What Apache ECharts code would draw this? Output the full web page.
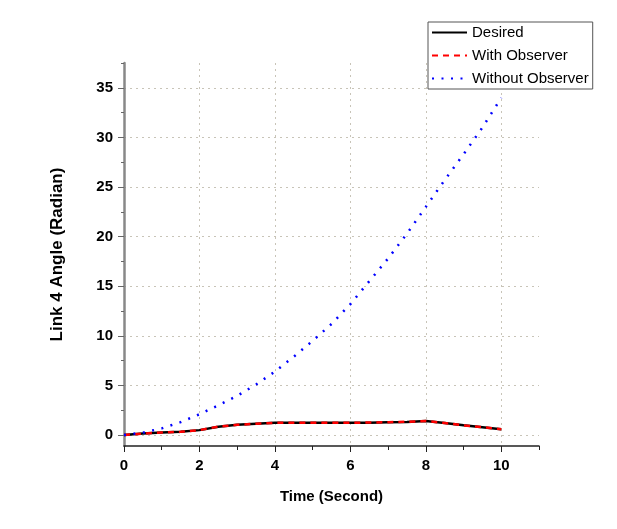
<!DOCTYPE html>
<html>
<head>
<meta charset="utf-8">
<script src="https://cdn.jsdelivr.net/npm/echarts@6/dist/echarts.min.js"></script>
<style>
html,body{margin:0;padding:0;background:#fff;}
#tu{width:617px;height:529px;}
</style>
</head>
<body>
<div id="tu"></div>
<script>
// time axis (s)
var shijian = [0,0.5,1,1.5,2,2.5,3,3.5,4,4.5,5,5.5,6,6.5,7,7.5,8,8.5,9,9.5,10]
// desired
var desired = [0,0.15,0.25,0.33,0.5,0.85,1.03,1.15,1.24,1.24,1.24,1.24,1.24,1.25,1.3,1.33,1.43,1.22,0.98,0.8,0.6]
// with observer
var withObs = [0,0.15,0.25,0.33,0.5,0.85,1.03,1.15,1.24,1.24,1.24,1.24,1.24,1.26,1.3,1.34,1.43,1.21,0.98,0.8,0.6]
// without observer
var withoutObs = [0,0.25,0.67,1.3,2.1,3.0,3.95,5.1,6.4,7.9,9.5,11.2,13.2,15.5,17.8,20.3,23.0,25.7,28.3,31.0,34.0]

var yMajor = [0,5,10,15,20,25,30,35]
var yMinor = [2.5,7.5,12.5,17.5,22.5,27.5,32.5,37.5]
var xMajor = [0,2,4,6,8,10]
var xMinor = [1,3,5,7,9,11]

function zudui(ys){
	var arr=[]
	for(var i=0;i<shijian.length;i++){
		arr.push([shijian[i],ys[i]])
	}
	return arr
}

var ziti = '"Liberation Sans", Arial, sans-serif'

var myChart = echarts.init(document.getElementById('tu'))

var option = {
	backgroundColor: '#fff',
	animation: false,
	grid: { left: 124, right: 78, top: 63, bottom: 83 },
	legend: {
		orient: 'vertical',
		left: 428,
		top: 22,
		padding: [3, 4, 3, 3],
		itemWidth: 35,
		itemHeight: 14,
		itemGap: 8,
		backgroundColor: '#fff',
		borderColor: '#555',
		borderWidth: 1,
		itemStyle: { opacity: 0 },
		textStyle: { fontFamily: ziti, fontSize: 15, color: '#000' },
		data: ['Desired', 'With Observer', 'Without Observer']
	},
	xAxis: [
		{
			type: 'value', min: 0, max: 11,
			name: 'Time (Second)', nameLocation: 'middle', nameGap: 43,
			nameTextStyle: { fontFamily: ziti, fontSize: 15, fontWeight: 'bold', color: '#000' },
			axisLine: { onZero: false, lineStyle: { color: '#222', width: 1.5 } },
			axisTick: { customValues: xMajor, length: 6, lineStyle: { color: '#222', width: 1 } },
			axisLabel: { customValues: xMajor, margin: 12, fontFamily: ziti, fontSize: 15, fontWeight: 'bold', color: '#000' },
			splitLine: { show: true, lineStyle: { color: '#c8c4b8', type: [2, 4], width: 1 } }
		},
		{
			type: 'value', min: 0, max: 11, position: 'bottom',
			axisLine: { show: false, onZero: false },
			axisTick: { show: true, customValues: xMinor, length: 4, lineStyle: { color: '#222', width: 1 } },
			axisLabel: { show: false },
			splitLine: { show: false }
		}
	],
	yAxis: [
		{
			type: 'value', min: -1.1, max: 37.5,
			name: 'Link 4 Angle (Radian)', nameLocation: 'middle', nameGap: 58,
			nameTextStyle: { fontFamily: ziti, fontSize: 17, fontWeight: 'bold', color: '#000' },
			axisLine: { show: true, onZero: false, lineStyle: { color: '#888', width: 2.5 } },
			axisTick: { show: true, customValues: yMajor, length: 6, lineStyle: { color: '#666', width: 1 } },
			axisLabel: { customValues: yMajor, margin: 11, fontFamily: ziti, fontSize: 15, fontWeight: 'bold', color: '#000' },
			splitLine: { show: true, lineStyle: { color: '#c8c4b8', type: [2, 4], width: 1 } }
		},
		{
			type: 'value', min: -1.1, max: 37.5, position: 'left',
			axisLine: { show: false, onZero: false },
			axisTick: { show: true, customValues: yMinor, length: 3, lineStyle: { color: '#666', width: 1 } },
			axisLabel: { show: false },
			splitLine: { show: false }
		}
	],
	series: [
		{
			name: 'Desired', type: 'line', symbol: 'none',
			lineStyle: { color: '#000', width: 2.5 },
			itemStyle: { color: '#000' },
			data: zudui(desired)
		},
		{
			name: 'With Observer', type: 'line', symbol: 'none',
			lineStyle: { color: '#ff0000', width: 2.5, type: [6, 5] },
			itemStyle: { color: '#ff0000' },
			data: zudui(withObs)
		},
		{
			name: 'Without Observer', type: 'line', symbol: 'none',
			lineStyle: { color: '#0000ff', width: 2.5, type: [2, 7.5] },
			itemStyle: { color: '#0000ff' },
			data: zudui(withoutObs)
		}
	]
}

myChart.setOption(option)
</script>
</body>
</html>
